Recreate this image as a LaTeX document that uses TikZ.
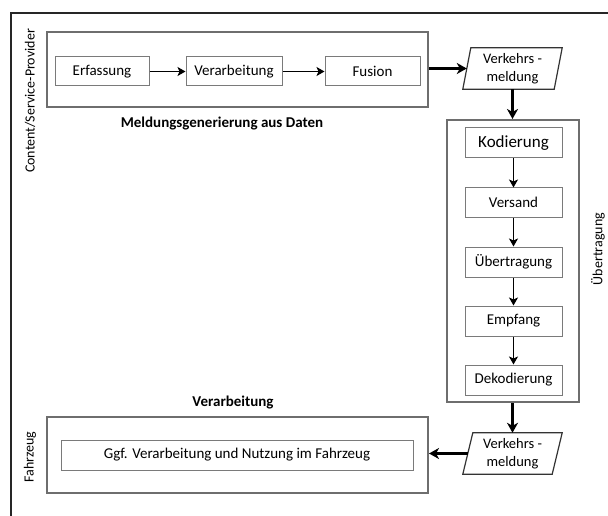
\documentclass[tikz,border=0pt]{standalone}
\usepackage{fontspec}
\setmainfont{Carlito}
\usetikzlibrary{arrows.meta,calc}
\definecolor{boxgray}{HTML}{6E6E6E}
\definecolor{innergray}{HTML}{7A7A7A}
\begin{document}
\begin{tikzpicture}[x=1pt,y=-1pt,
  outerbox/.style={draw=boxgray,line width=2pt,inner sep=0pt},
  innerbox/.style={draw=innergray,line width=1pt,inner sep=0pt,minimum height=29pt,font=\fontsize{15}{17}\selectfont},
  plain/.style={inner sep=0pt,font=\fontsize{15}{17}\selectfont},
  boldlabel/.style={inner sep=0pt,font=\fontsize{15}{17}\selectfont\bfseries},
  sidelabel/.style={inner sep=0pt,rotate=90,font=\fontsize{14}{16}\selectfont},
  thinarrow/.style={line width=1.5pt,-{Stealth[length=8pt,width=9pt,inset=2pt]}},
  thickarrow/.style={line width=2.2pt,-{Stealth[length=10pt,width=11pt,inset=3pt]}},
  para/.style={draw=black!80,line width=1.2pt}
]
\useasboundingbox (0,0) rectangle (608,516);
% outer frame
\coordinate (ftl) at (11,13);
\coordinate (ftr) at (608,13);
\coordinate (fbl) at (11,516);
\draw[line width=1.2pt,black!85] (ftr) -- (ftl) -- (fbl);

% side labels
\node[sidelabel] (csp) at (30,101) {Content/Service-Provider};
\node[sidelabel] (fzl) at (30,457) {Fahrzeug};
\node[sidelabel] (uel) at (598,249) {Übertragung};

% top generation box
\node[outerbox,minimum width=381pt,minimum height=75pt] (gen) at (237.5,69.5) {};
\node[innerbox,minimum width=94pt] (erf) at (102,71.5) {Erfassung};
\node[innerbox,minimum width=96pt] (ver) at (234,71.5) {Verarbeitung};
\node[innerbox,minimum width=95pt] (fus) at (372.5,71.5) {Fusion};
\node[boldlabel] (genl) at (222,124) {Meldungsgenerierung aus Daten};
\draw[thinarrow] (erf) -- (ver);
\draw[thinarrow] (ver) -- (fus);

% message 1
\node[plain,minimum width=99pt,minimum height=41pt,align=center,font=\fontsize{14.5}{18}\selectfont] (vm1) at (512.5,68.5) {Verkehrs -\\meldung};
\draw[para] (vm1.south west) -- ([xshift=8pt]vm1.north west) -- (vm1.north east) -- ([xshift=-8pt]vm1.south east) -- cycle;
\draw[thickarrow] (gen.east |- vm1) -- ([xshift=4pt]vm1.west);

% transmission box
\node[outerbox,minimum width=132pt,minimum height=282pt] (tr) at (513,261) {};
\node[innerbox,minimum width=97pt,minimum height=30pt,font=\fontsize{17}{19}\selectfont] (kod) at (513.5,143) {Kodierung};
\node[innerbox,minimum width=97pt] (vers) at (513.5,202.5) {Versand};
\node[innerbox,minimum width=97pt,minimum height=30pt] (ueb) at (513.5,262) {Übertragung};
\node[innerbox,minimum width=97pt,minimum height=30pt] (emp) at (513.5,321) {Empfang};
\node[innerbox,minimum width=97pt,minimum height=30pt] (dek) at (513.5,380) {Dekodierung};
\draw[thickarrow] (vm1.south) -- (vm1.south |- tr.north);
\draw[thinarrow] (kod) -- (vers);
\draw[thinarrow] (vers) -- (ueb);
\draw[thinarrow] (ueb) -- (emp);
\draw[thinarrow] (emp) -- (dek);

% message 2
\node[plain,minimum width=99pt,minimum height=41pt,align=center,font=\fontsize{14.5}{18}\selectfont] (vm2) at (512.5,453.5) {Verkehrs -\\meldung};
\draw[para] (vm2.south west) -- ([xshift=10pt]vm2.north west) -- (vm2.north east) -- ([xshift=-10pt]vm2.south east) -- cycle;
\draw[thickarrow] (tr.south -| vm2) -- (vm2.north);

% vehicle box
\node[outerbox,minimum width=381pt,minimum height=76pt] (fz) at (237.5,455) {};
\node[innerbox,minimum width=352pt,minimum height=30pt] (ggf) at (237,455) {Ggf. Verarbeitung und Nutzung im Fahrzeug};
\node[boldlabel] (verl) at (233,403) {Verarbeitung};
\draw[thickarrow] ([xshift=5pt]vm2.west) -- (fz.east |- vm2);
\end{tikzpicture}
\end{document}
